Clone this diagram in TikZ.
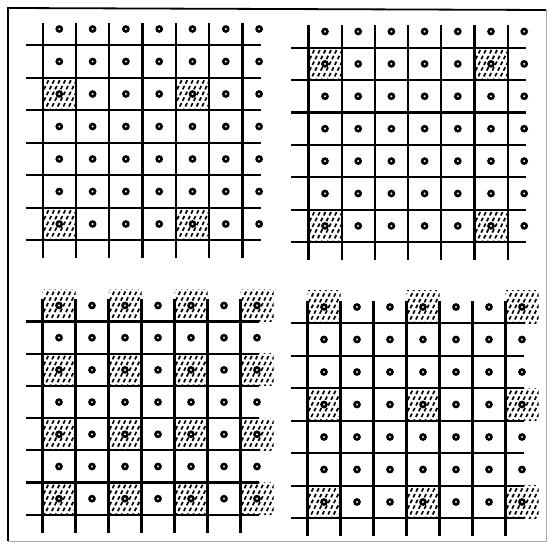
\documentclass[tikz,border=0pt]{standalone}
\tikzset{
  gridline/.style={line width=2.2pt},
  dotmark/.style={line width=2.6pt, fill=white},
  hatchline/.style={line width=1.7pt, dash pattern=on 3.8pt off 2.6pt},
}
\newcommand\mygrid[5]{%
 \begin{scope}[shift={(#1,#2)}]
  \foreach \r/\c in {#5} {
    \begin{scope}
    \clip ({(\c-1)*#3-#3/2},{(\r-1)*#4-#4/2}) rectangle ++(#3,#4);
    \foreach \k in {-8,...,7}
      \draw[hatchline] ({(\c-1)*#3+\k*5.6-10},{(\r-1)*#4+#4/2+2}) -- ++(20,-40);
    \end{scope}
  }
  \foreach \i in {0,...,6}
    \draw[gridline] ({\i*#3-#3/2},-6) -- ({\i*#3-#3/2},{6*#4+#4/2+18});
  \foreach \j in {0,...,6}
    \draw[gridline] ({-#3/2-17},{\j*#4+#4/2}) -- ({6*#3+2},{\j*#4+#4/2});
  \foreach \r in {0,...,6}
    \foreach \c in {0,...,6}
      \draw[dotmark] ({\c*#3},{\r*#4}) circle (2.5pt);
 \end{scope}}
\begin{document}
\begin{tikzpicture}[x=1pt,y=-1pt]
\useasboundingbox (0,0) rectangle (550,548);
\draw[line width=1.8pt] (8,541) -- (8,8) -- (546,10);
\draw[black!35, line width=0.8pt] (546,10) -- (546,541) -- (8,541);
% top left
\mygrid{59.3}{29}{33.3}{32.5}{3/1,3/5,7/1,7/5}
% top right
\mygrid{325}{31.5}{33.2}{32.4}{2/1,2/6,7/1,7/6}
% bottom left
\mygrid{59}{305.5}{33}{32.2}{1/1,1/3,1/5,1/7,3/1,3/3,3/5,3/7,5/1,5/3,5/5,5/7,7/1,7/3,7/5,7/7}
% bottom right
\mygrid{324}{307}{33}{32.5}{1/1,1/4,1/7,4/1,4/4,4/7,7/1,7/4,7/7}
\end{tikzpicture}
\end{document}
